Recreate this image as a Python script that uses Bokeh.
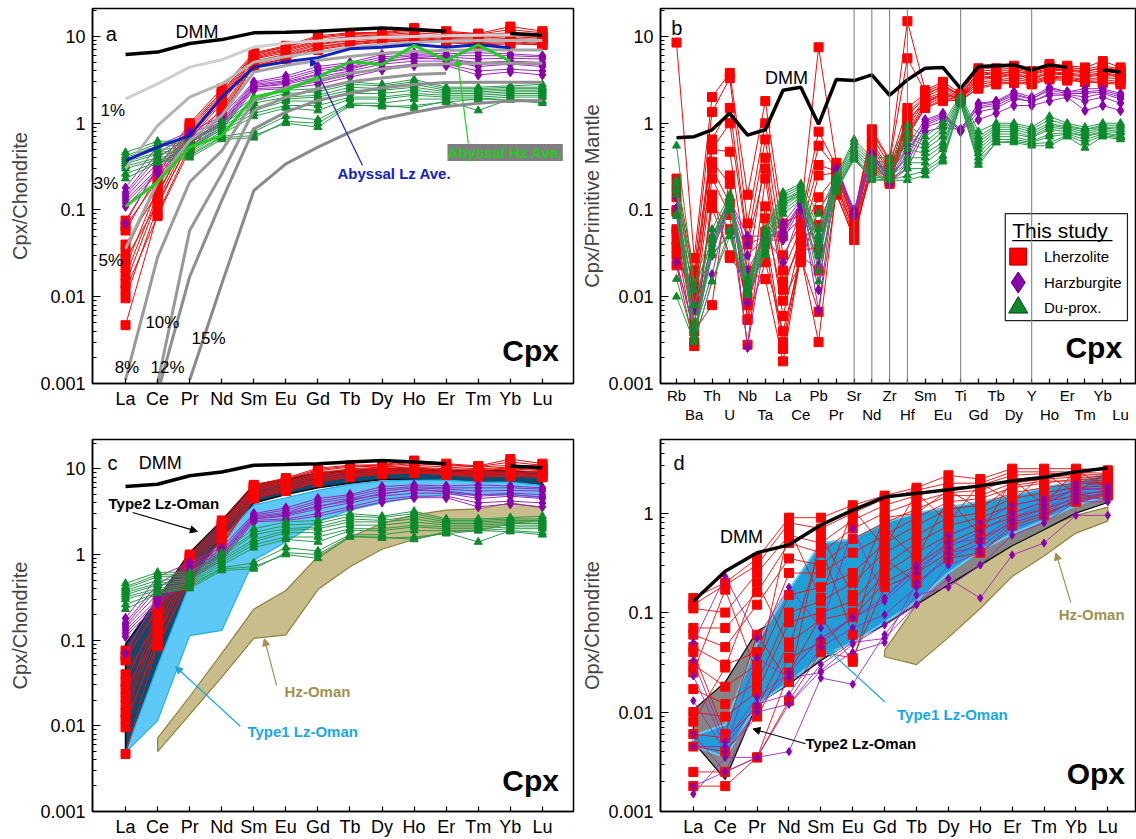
import math
from bokeh.plotting import figure
from bokeh.models import (Range1d, FixedTicker, CustomJSTickFormatter, LinearAxis,
                          Span, Label, Arrow, NormalHead)
from bokeh.layouts import gridplot
from bokeh.embed import file_html
from bokeh.resources import INLINE

FONT = "Liberation Sans"
NA = float("nan")

# ---------------------------------------------------------------- categories
REE = ["La", "Ce", "Pr", "Nd", "Sm", "Eu", "Gd", "Tb", "Dy", "Ho", "Er", "Tm", "Yb", "Lu"]
SPIDER = ["Rb", "Ba", "Th", "U", "Nb", "Ta", "La", "Ce", "Pb", "Pr", "Sr", "Nd", "Zr", "Hf",
          "Sm", "Eu", "Ti", "Gd", "Tb", "Dy", "Y", "Ho", "Er", "Tm", "Yb", "Lu"]
SPIDER_LINES = ["Sr", "Nd", "Zr", "Hf", "Ti", "Y"]

# ---------------------------------------------------------------- DMM
dmm_cpx_ree = [6.2, 6.6, 8.3, 9.2, 11.0, 11.2, 11.5, 12.0, 12.5, 12.0, 11.5, NA, 10.8, 10.3]
dmm_cpx_pm = [0.68, 0.70, 0.84, 1.3, 0.73, 0.84, 2.4, 2.6, 0.97, 3.2, 3.1, 3.6, 2.1, 3.16,
              4.3, 4.4, 2.5, 4.5, 4.6, 4.7, 4.1, 4.7, 4.4, NA, 4.1, 3.9]
dmm_opx_ree = [0.13, 0.26, 0.40, 0.48, 0.76, 1.07, 1.45, 1.58, 1.72, 1.88, 2.1, 2.3, 2.6, 2.85]

# ---------------------------------------------------------------- melting model (panel a)
melt_labels = ["1%", "3%", "5%", "8%", "10%", "12%", "15%"]
melt_1 = [1.91, 2.84, 4.43, 5.38, 7.53, 8.38, 8.84, 9.4, 9.8, 10.0, 10.2, 10.3, 10.4, 10.4]
melt_3 = [0.30, 0.94, 2.0, 2.84, 5.06, 5.88, 6.6, 7.4, 8.1, 8.5, 8.8, 9.0, 9.0, 9.0]
melt_5 = [0.0357, 0.21, 0.63, 1.23, 3.88, 4.63, 5.28, 5.88, 6.4, 6.77, 6.9, 7.0, 7.0, 7.0]
melt_8 = [0.0011, 0.0286, 0.21, 0.48, 1.83, 2.56, 3.16, 3.77, 4.23, 4.63, 4.84, 4.9, 4.9, 4.9]
melt_10 = [NA, 0.001, 0.058, 0.26, 1.4, 2.0, 2.5, 3.0, 3.33, 3.64, 3.77, NA, NA, NA]
melt_12 = [NA, 0.00078, 0.017, 0.128, 0.86, 1.34, 1.83, 2.22, 2.56, 2.8, 2.94, 2.97, 2.97, 2.97]
melt_15 = [NA, NA, 0.0011, 0.014, 0.167, 0.34, 0.53, 0.79, 1.12, 1.34, 1.56, 1.7, 1.8, 1.83]

abyssal_lz_ave = [0.37, 0.53, 0.72, 2.0, 4.4, 5.1, 5.7, 7.2, 7.5, 8.1, 7.5, 8.0, 7.4, NA]
abyssal_hz_ave = [0.11, 0.21, 0.53, 0.72, 2.0, 2.4, 3.4, 5.1, 4.75, 7.9, 5.3, 8.0, 5.2, NA]

# ---------------------------------------------------------------- Cpx REE (panels a, c)
cpx_lz = [
    [0.0755, 0.30, 1.00, 2.5, 6.5, 7.8, 10.2, 11.0, 11.2, 12.5, 11.5, 10.8, 13.0, 11.5],
    [0.058, 0.25, 0.95, 2.3, 6.2, 7.5, 9.5, 10.5, 10.8, 11.5, 11.0, 10.5, 11.0, 10.8],
    [0.0325, 0.20, 0.85, 2.1, 6.0, 7.2, 9.0, 10.0, 10.5, 11.0, 10.5, 10.0, 10.5, 10.0],
    [0.0217, 0.18, 0.80, 2.0, 5.8, 7.0, 8.8, 9.8, 10.2, 10.5, 10.0, 9.8, 10.2, 9.8],
    [0.0175, 0.15, 0.75, 1.9, 5.6, 6.8, 8.5, 9.5, 10.0, 10.2, 9.8, 9.5, 10.0, 9.5],
    [0.0142, 0.13, 0.70, 1.8, 5.5, 6.5, 8.2, 9.2, 9.8, 10.0, 9.5, 9.2, 9.5, 9.2],
    [0.0096, 0.11, 0.65, 1.7, 5.2, 6.2, 8.0, 9.0, 9.5, 9.8, 9.2, 9.0, 9.2, 9.0],
    [0.0047, 0.09, 0.55, 1.5, 5.0, 6.0, 7.6, 8.6, 9.2, 9.5, 9.0, 8.6, 9.0, 8.5],
    [0.040, 0.16, 0.70, 1.4, 4.8, 5.8, 7.5, 8.5, 9.0, 9.2, 8.8, 8.5, 8.8, 8.2],
    [0.027, 0.12, 0.60, 1.3, 4.6, 5.6, 7.2, 8.2, 8.8, 9.0, 8.6, 8.2, 8.5, 8.0],
    [0.065, 0.22, 0.90, 2.2, 6.3, 7.6, 9.8, 10.8, 11.0, 12.0, 11.2, 10.6, 12.0, 11.0],
    [0.012, 0.085, 0.50, 1.25, 4.5, 5.5, 7.0, 8.0, 8.6, 9.0, 8.5, 8.0, 8.2, 8.0],
]
cpx_hz = [
    [0.18, 0.55, 0.80, 1.2, 3.0, 3.5, 4.5, 5.0, 6.2, 6.5, 6.3, 6.5, 6.3, 6.0],
    [0.16, 0.45, 0.75, 1.1, 2.9, 3.3, 4.2, 4.8, 5.8, 6.2, 6.0, 6.0, 6.0, 5.8],
    [0.15, 0.40, 0.70, 1.05, 2.8, 3.1, 4.0, 4.5, 5.5, 6.0, 5.8, 5.5, 5.6, 5.5],
    [0.14, 0.35, 0.65, 1.0, 2.7, 3.0, 3.7, 4.2, 5.2, 5.6, 5.5, 5.0, 5.2, 5.0],
    [0.13, 0.30, 0.60, 0.95, 2.6, 2.8, 3.4, 4.0, 4.8, 5.2, 5.2, 4.5, 4.8, 4.5],
    [0.12, 0.28, 0.55, 0.90, 2.5, 2.6, 3.0, 3.6, 4.4, 4.8, 4.8, 4.0, 4.2, 4.0],
    [0.11, 0.26, 0.52, 0.85, 2.4, 2.5, 2.8, 3.4, 4.1, 4.6, 4.6, 3.6, 3.9, 3.6],
    [0.07, 0.32, 0.62, 0.98, 2.6, 2.9, 3.6, 4.4, 5.0, 5.8, 5.4, 4.8, 5.0, 4.7],
]
cpx_du = [
    [0.46, 0.62, 0.62, 1.05, 2.0, 2.4, 2.5, 3.0, 2.8, 3.2, 2.6, 2.6, 2.7, 2.8],
    [0.42, 0.58, 0.58, 1.0, 1.8, 2.2, 2.3, 2.8, 2.7, 3.0, 2.5, 2.5, 2.6, 2.6],
    [0.40, 0.55, 0.55, 0.95, 1.7, 2.0, 2.1, 2.6, 2.5, 2.8, 2.4, 2.4, 2.5, 2.5],
    [0.38, 0.50, 0.52, 0.90, 1.5, 1.9, 2.0, 2.4, 2.4, 2.6, 2.3, 2.3, 2.4, 2.4],
    [0.36, 0.46, 0.50, 0.85, 1.4, 1.8, 1.8, 2.2, 2.2, 2.4, 2.2, 2.2, 2.3, 2.3],
    [0.34, 0.44, 0.48, 0.80, 1.3, 1.6, 1.6, 2.0, 2.0, 2.2, 2.1, 2.1, 2.2, 2.2],
    [0.32, 0.40, 0.46, 0.75, 1.2, 1.5, 1.4, 1.9, 1.9, 2.1, 2.0, 2.0, 2.1, 2.1],
    [0.30, 0.38, 0.44, 0.70, 0.8, 1.2, 1.1, 1.7, 1.7, 1.9, 1.9, 1.9, 2.0, 2.0],
    [0.26, 0.36, 0.42, 0.68, 0.72, 1.0, 0.9, 1.6, 1.6, 1.5, 1.8, 1.4, 1.9, 1.8],
    [0.23, 0.35, 0.40, 0.65, 0.68, 1.05, 1.0, 1.65, 1.55, 1.6, 1.75, 1.9, 1.85, 1.7],
]

# ---------------------------------------------------------------- Cpx spider (panel b)
pm_lz = [
    [8.5, 0.028, 2.0, 3.8, 0.15, 1.8, 0.07, 0.09, 7.5, 0.35, 0.09, 0.85, 0.38, 15.0, 2.4, 3.0, 2.2, 4.3, 4.3, 4.6, 4.0, 4.8, 4.6, 4.4, 5.2, 4.4],
    [0.23, 0.02, 1.35, 3.3, 0.07, 1.0, 0.05, 0.08, 0.8, 0.32, 0.085, 0.8, 0.36, 5.6, 2.3, 2.8, 2.1, 4.0, 4.1, 4.4, 3.9, 4.5, 4.4, 4.2, 4.6, 4.2],
    [0.14, 0.015, 0.65, 1.5, 0.045, 0.65, 0.03, 0.07, 0.55, 0.3, 0.08, 0.7, 0.33, 1.5, 2.2, 2.6, 2.1, 3.8, 3.9, 4.2, 3.8, 4.3, 4.2, 4.0, 4.3, 4.0],
    [0.095, 0.012, 0.5, 0.47, 0.02, 0.4, 0.02, 0.06, 0.33, 0.28, 0.075, 0.6, 0.3, 1.2, 2.0, 2.5, 2.0, 3.6, 3.7, 4.0, 3.6, 4.1, 4.0, 3.8, 4.0, 3.8],
    [0.056, 0.009, 0.36, 0.2, 0.0055, 0.23, 0.012, 0.05, 0.14, 0.25, 0.07, 0.55, 0.28, 1.0, 1.9, 2.3, 2.0, 3.4, 3.5, 3.8, 3.4, 3.9, 3.8, 3.6, 3.8, 3.6],
    [0.038, 0.007, 0.23, 0.088, 0.0028, 0.11, 0.006, 0.045, 0.067, 0.22, 0.065, 0.5, 0.26, 0.9, 1.8, 2.2, 1.9, 3.2, 3.3, 3.6, 3.3, 3.7, 3.6, 3.4, 3.6, 3.4],
    [0.023, 0.0027, 0.15, 0.028, 0.016, 0.056, 0.003, 0.035, 0.036, 0.2, 0.06, 0.45, 0.25, 0.8, 1.7, 2.1, 1.9, 3.0, 3.1, 3.4, 3.1, 3.5, 3.4, 3.2, 3.4, 3.2],
    [0.1, 0.005, 0.105, 0.03, 0.0195, 0.016, 0.0018, 0.03, 0.003, 0.18, 0.05, 0.4, 0.24, 0.75, 1.6, 2.0, 1.85, 2.8, 3.0, 3.2, 3.0, 3.4, 3.3, 3.1, 3.2, 3.0],
    [0.06, 0.004, 0.008, 0.25, 0.0054, 0.025, 0.004, 0.028, 0.0067, 0.16, 0.045, 0.35, 0.22, 0.72, 1.5, 1.9, 1.8, 2.6, 2.9, 3.0, 2.9, 3.3, 3.2, 3.0, 3.0, 2.9],
    [0.18, 0.018, 0.5, 1.0, 0.04, 0.3, 0.015, 0.04, 0.25, 0.27, 0.07, 0.3, 0.21, 1.3, 2.1, 2.7, 2.1, 3.9, 3.6, 4.0, 3.7, 4.2, 4.1, 3.9, 4.4, 4.1],
    [0.03, 0.01, 0.3, 0.12, 0.01, 0.08, 0.009, 0.025, 0.1, 0.2, 0.055, 0.28, 0.2, 1.1, 1.7, 2.2, 1.95, 3.3, 3.4, 3.7, 3.2, 3.8, 3.7, 3.5, 3.7, 3.5],
    [0.045, 0.003, 0.12, 0.06, 0.008, 0.04, 0.0025, 0.03, 0.02, 0.15, 0.048, 0.32, 0.22, 0.7, 1.5, 1.8, 1.85, 2.5, 2.8, 2.9, 2.8, 3.2, 3.1, 3.0, 2.9, 2.8],
]
pm_hz = [
    [0.15, 0.0035, 0.05, 0.13, 0.05, 0.05, 0.07, 0.13, 0.05, 0.3, 0.1, 0.45, 0.25, 0.55, 1.1, 1.3, 0.85, 1.7, 1.8, 2.3, 2.0, 2.6, 2.3, 2.5, 2.5, 2.2],
    [0.105, 0.007, 0.04, 0.12, 0.03, 0.048, 0.06, 0.12, 0.035, 0.29, 0.095, 0.42, 0.22, 0.45, 1.0, 1.2, 0.82, 1.55, 1.7, 2.1, 1.9, 2.4, 2.2, 2.2, 2.3, 2.0],
    [0.025, 0.004, 0.018, 0.13, 0.0085, 0.045, 0.045, 0.11, 0.023, 0.28, 0.09, 0.4, 0.2, 0.35, 0.9, 1.05, 0.8, 1.35, 1.5, 1.9, 1.8, 2.1, 2.1, 1.8, 2.0, 1.7],
    [0.14, 0.0035, 0.045, 0.14, 0.0026, 0.05, 0.025, 0.1, 0.012, 0.3, 0.085, 0.38, 0.21, 0.3, 0.8, 0.9, 0.84, 1.1, 1.3, 1.6, 1.6, 1.8, 2.0, 1.4, 1.6, 1.4],
    [0.1, 0.0038, 0.035, 0.125, 0.04, 0.05, 0.055, 0.115, 0.007, 0.28, 0.09, 0.43, 0.23, 0.5, 0.95, 1.15, 0.83, 1.5, 1.6, 2.0, 1.75, 2.2, 2.15, 2.0, 2.2, 1.9],
    [0.025, 0.004, 0.03, 0.13, 0.02, 0.05, 0.05, 0.12, 0.03, 0.3, 0.1, 0.44, 0.24, 0.4, 1.05, 1.25, 0.85, 1.65, 1.75, 2.2, 1.9, 2.5, 2.3, 2.3, 2.4, 2.1],
]
pm_du = [
    [0.55, 0.014, 0.06, 0.15, 0.016, 0.06, 0.16, 0.2, 0.09, 0.25, 0.65, 0.4, 0.4, 0.95, 0.7, 1.0, 2.1, 0.8, 1.0, 1.0, 0.9, 1.2, 1.0, 0.9, 1.0, 1.0],
    [0.22, 0.012, 0.045, 0.13, 0.015, 0.055, 0.15, 0.19, 0.06, 0.24, 0.6, 0.37, 0.35, 0.8, 0.6, 0.9, 2.0, 0.7, 0.95, 0.95, 0.85, 1.1, 0.95, 0.85, 0.95, 0.95],
    [0.2, 0.008, 0.05, 0.14, 0.014, 0.05, 0.14, 0.18, 0.05, 0.23, 0.55, 0.35, 0.3, 0.7, 0.55, 0.8, 1.95, 0.65, 0.9, 0.9, 0.8, 1.0, 0.9, 0.85, 0.9, 0.9],
    [0.18, 0.005, 0.04, 0.12, 0.012, 0.045, 0.13, 0.17, 0.045, 0.22, 0.5, 0.33, 0.28, 0.6, 0.5, 0.7, 1.9, 0.6, 0.85, 0.85, 0.75, 0.95, 0.88, 0.8, 0.88, 0.85],
    [0.09, 0.004, 0.032, 0.05, 0.011, 0.04, 0.12, 0.16, 0.04, 0.2, 0.48, 0.3, 0.27, 0.5, 0.45, 0.6, 1.85, 0.55, 0.8, 0.8, 0.7, 0.9, 0.85, 0.75, 0.85, 0.8],
    [0.085, 0.0035, 0.03, 0.055, 0.0105, 0.035, 0.11, 0.15, 0.03, 0.19, 0.45, 0.28, 0.25, 0.4, 0.4, 0.55, 1.8, 0.5, 0.75, 0.75, 0.68, 0.85, 0.8, 0.72, 0.8, 0.78],
    [0.016, 0.003, 0.015, 0.05, 0.011, 0.032, 0.1, 0.14, 0.015, 0.18, 0.42, 0.25, 0.24, 0.35, 0.35, 0.5, 1.75, 0.45, 0.7, 0.7, 0.62, 0.75, 0.78, 0.7, 0.78, 0.72],
    [0.01, 0.003, 0.015, 0.06, 0.012, 0.03, 0.09, 0.13, 0.02, 0.16, 0.4, 0.24, 0.23, 0.3, 0.3, 0.42, 1.7, 0.4, 0.65, 0.65, 0.6, 0.7, 0.75, 0.65, 0.75, 0.7],
    [0.15, 0.0032, 0.035, 0.1, 0.013, 0.04, 0.12, 0.15, 0.035, 0.17, 0.38, 0.23, 0.22, 0.25, 0.28, 0.38, 1.7, 0.36, 0.6, 0.62, 0.58, 0.6, 0.72, 0.6, 0.72, 0.68],
    [0.17, 0.0035, 0.045, 0.11, 0.014, 0.045, 0.13, 0.16, 0.05, 0.18, 0.4, 0.22, 0.22, 0.22, 0.25, 0.36, 1.65, 0.33, 0.6, 0.6, 0.55, 0.55, 0.7, 0.52, 0.7, 0.65],
]

# ---------------------------------------------------------------- Opx REE (panel d)
opx_lz = [
    [0.14, 0.2, 0.35, 0.9, 0.9, 1.2, 1.5, 1.8, 2.4, 2.2, 2.8, 2.8, 2.8, 2.7],
    [0.12, 0.19, 0.3, 0.8, 0.7, 1.0, 1.4, 1.7, 2.0, 2.0, 2.6, 2.6, 2.6, 2.5],
    [0.11, 0.1, 0.25, 0.6, 0.5, 0.85, 1.2, 1.5, 1.8, 1.9, 2.4, 2.5, 2.5, 2.4],
    [0.07, 0.07, 0.16, 0.5, 0.4, 0.7, 1.0, 1.3, 1.6, 1.7, 2.2, 2.3, 2.4, 2.3],
    [0.06, 0.045, 0.12, 0.35, 0.3, 0.55, 0.8, 1.1, 1.5, 1.5, 2.0, 2.2, 2.3, 2.2],
    [0.045, 0.03, 0.04, 0.25, 0.25, 0.4, 0.6, 0.9, 1.3, 1.4, 1.8, 2.0, 2.2, 2.1],
    [0.03, 0.018, 0.03, 0.15, 0.18, 0.25, 0.5, 0.75, 1.1, 1.2, 1.6, 1.8, 2.0, 2.0],
    [0.017, 0.012, 0.02, 0.1, 0.13, 0.2, 0.4, 0.6, 0.9, 1.0, 1.4, 1.6, 1.8, 1.9],
    [0.01, 0.009, 0.016, 0.08, 0.1, 0.13, 0.3, 0.5, 0.75, 0.9, 1.2, 1.4, 1.7, 1.8],
    [0.006, 0.0055, 0.011, 0.05, 0.085, 0.1, 0.25, 0.4, 0.6, 0.8, 1.0, 1.3, 1.5, 1.7],
    [0.0045, 0.004, 0.009, 0.035, 0.05, 0.09, 0.2, 0.3, 0.5, 0.7, 0.9, 1.1, 1.4, 1.6],
    [0.0025, 0.0025, 0.0035, 0.013, 0.04, 0.035, 0.18, 0.25, 0.4, 0.55, 0.8, 1.0, 1.3, 1.5],
    [0.0018, 0.0018, 0.0035, 0.025, 0.09, 0.032, 0.35, 0.2, 0.35, 0.4, 0.75, 0.95, 1.35, 1.55],
    [0.04, 0.006, 0.06, 0.02, 0.6, 0.15, 0.9, 1.0, 1.7, 1.1, 1.9, 2.1, 2.1, 2.0],
    [0.025, 0.17, 0.024, 0.7, 0.14, 1.1, 0.45, 1.6, 0.8, 2.0, 1.3, 2.5, 1.6, 2.6],
    [0.008, 0.028, 0.2, 0.045, 0.45, 0.06, 0.7, 0.35, 1.4, 0.6, 2.2, 1.2, 2.7, 1.8],
]
opx_hz = [
    [0.05, 0.23, 0.055, 0.18, 0.07, 0.7, 0.14, 0.3, 0.6, 0.8, 1.2, 1.4, 2.0, 1.9],
    [0.033, 0.005, 0.014, 0.025, 0.055, 0.088, 0.13, 0.25, 0.5, 0.55, 0.9, 1.2, 1.8, 1.7],
    [0.023, 0.0045, 0.012, 0.015, 0.045, 0.07, 0.095, 0.18, 0.4, 0.45, 0.8, 1.0, 1.5, 1.5],
    [0.013, 0.004, 0.01, 0.012, 0.026, 0.048, 0.075, 0.12, 0.22, 0.14, 0.38, 0.5, 0.95, 0.95],
    [0.006, 0.0025, 0.0035, 0.004, 0.022, 0.019, 0.06, 0.15, 0.18, 0.3, 0.6, 0.8, 1.3, 1.3],
    [0.0045, 0.0045, 0.035, 0.022, 0.025, 0.04, 0.05, 0.2, 0.35, 0.5, 0.85, 1.1, 1.6, 1.6],
    [0.0018, 0.0025, 0.011, 0.025, 0.055, 0.09, 0.14, 0.28, 0.45, 0.65, 1.0, 1.3, 1.7, 1.8],
    [0.0015, 0.0035, 0.0035, 0.012, 0.03, 0.05, 0.055, 0.12, 0.3, 0.4, 0.7, 0.9, 1.4, 1.4],
]

# ---------------------------------------------------------------- Oman fields
# panel c (Cpx), La..Lu
c_type2_upper = [0.09, 0.30, 1.05, 2.5, 6.5, 7.5, 9.0, 9.5, 10.0, 10.0, 9.5, 9.5, 9.5, 9.0]
c_type2_lower = [0.0049, 0.035, 0.35, 1.1, 4.0, 5.0, 6.0, 6.8, 7.5, 7.5, 7.2, 7.0, 6.8, 6.5]
c_type1_upper = [0.0049, 0.05, 0.45, 1.5, 3.8, 4.6, 5.6, 6.6, 7.2, 7.4, 7.4, 7.0, 7.0, 6.4]
c_type1_lower = [0.0049, 0.0115, 0.113, 0.13, 0.85, 1.4, 2.4, 3.3, 4.0, 4.6, 5.0, 5.0, 5.0, 4.6]
# Ce..Lu
c_hz_upper = [0.0072, 0.022, 0.07, 0.23, 0.38, 0.95, 1.6, 2.3, 2.9, 3.3, 3.4, 4.0, 3.5]
c_hz_lower = [0.005, 0.0135, 0.037, 0.105, 0.115, 0.39, 0.72, 1.15, 1.5, 1.85, 1.9, 2.3, 2.5]
# panel d (Opx), La..Lu
d_type2_upper = [0.0105, 0.02, 0.065, 0.1, 0.2, 0.3, 0.45, 0.6, 0.8, 1.0, 1.2, 1.5, 1.8, 2.2]
d_type2_lower = [0.005, 0.0021, 0.012, 0.019, 0.033, 0.052, 0.075, 0.12, 0.19, 0.3, 0.47, 0.68, 1.0, 1.28]
d_type1_upper = [0.0058, 0.0075, 0.05, 0.17, 0.5, 0.55, 0.8, 1.0, 1.15, 1.3, 1.5, 1.8, 2.1, 2.5]
d_type1_lower = [0.0046, 0.0035, 0.012, 0.02, 0.036, 0.05, 0.08, 0.13, 0.25, 0.42, 0.62, 0.85, 1.2, 1.5]
# Gd..Lu
d_hz_upper = [0.042, 0.12, 0.22, 0.32, 0.5, 0.71, 0.95, 1.15]
d_hz_lower = [0.036, 0.030, 0.056, 0.11, 0.23, 0.37, 0.63, 0.83]

# ---------------------------------------------------------------- styles
RED, RED_L = "#ff0000", "#e31010"
PUR, PUR_L = "#8a00aa", "#9a2ab8"
GRN, GRN_L = "#0c8a2c", "#2a9a4a"
MELT_COLORS = ["#cfcfcf", "#b4b4b4", "#a4a4a4", "#9a9a9a", "#979797", "#8e8e8e", "#8a8a8a"]


def decade_minors(lo_exp, hi_exp, top=None):
    out = []
    for e in range(lo_exp, hi_exp + 1):
        for m in range(2, 10):
            v = m * 10.0 ** e
            if top is None or v <= top:
                out.append(v)
    return out


def make_fig(width, height, xr, yr, bl, br, bt, bb, ylabel, names, majors, minors,
             xfont="18px"):
    p = figure(width=width, height=height, x_range=Range1d(*xr), y_range=Range1d(*yr),
               y_axis_type="log", output_backend="svg", toolbar_location=None,
               min_border_left=bl, min_border_right=br, min_border_top=bt, min_border_bottom=bb,
               background_fill_color="white", border_fill_color="white")
    p.xgrid.visible = False
    p.ygrid.visible = False
    p.outline_line_color = "black"
    p.outline_line_width = 1.5
    for ax in (p.xaxis[0], p.yaxis[0]):
        ax.axis_line_color = "black"
        ax.axis_line_width = 1.5
        ax.major_tick_line_color = "black"
        ax.major_tick_line_width = 1.2
        ax.minor_tick_line_color = "black"
        ax.major_tick_out = 0
        ax.minor_tick_out = 0
        ax.major_label_text_font = FONT
        ax.major_label_text_color = "black"
        ax.axis_label_text_font = FONT
        ax.axis_label_text_font_style = "normal"
    ya = p.yaxis[0]
    ya.ticker = FixedTicker(ticks=majors, minor_ticks=minors)
    ya.formatter = CustomJSTickFormatter(code="return tick.toString();")
    ya.major_tick_in = 8
    ya.minor_tick_in = 4
    ya.major_label_text_font_size = "18px"
    ya.major_label_standoff = 7
    ya.axis_label = ylabel
    ya.axis_label_text_font_size = "20px"
    ya.axis_label_standoff = 6
    xa = p.xaxis[0]
    xa.ticker = FixedTicker(ticks=list(range(len(names))))
    xa.major_label_overrides = {i: n for i, n in enumerate(names)}
    xa.major_tick_in = 5
    xa.minor_tick_line_color = None
    xa.major_label_text_font_size = xfont
    xa.major_label_standoff = 5
    return p


def draw_group(p, rows, lcolor, mcolor, marker, size, lw=1.0):
    xs = list(range(len(rows[0])))
    p.multi_line([xs] * len(rows), rows, line_color=lcolor, line_width=lw)
    px = [x for r in rows for x, v in zip(xs, r) if not math.isnan(v)]
    py = [v for r in rows for v in r if not math.isnan(v)]
    p.scatter(px, py, marker=marker, size=size, fill_color=mcolor, line_color=mcolor)


def label(p, x, y, text, size, color="black", bold=False, align="left", bg=None):
    p.add_layout(Label(x=x, y=y, text=text, text_font=FONT, text_font_size=size,
                       text_color=color, text_font_style="bold" if bold else "normal",
                       text_align=align, text_baseline="middle",
                       background_fill_color=bg))


def arrow(p, x0, y0, x1, y1, color):
    p.add_layout(Arrow(end=NormalHead(size=7, fill_color=color, line_color=color),
                       x_start=x0, y_start=y0, x_end=x1, y_end=y1,
                       line_color=color, line_width=1.2))


def field(p, x0, upper, lower, fill, edge, lw=1.2):
    xs = list(range(x0, x0 + len(upper)))
    p.patch(xs + xs[::-1], upper + lower[::-1], fill_color=fill, line_color=edge, line_width=lw)


ree_x = list(range(len(REE)))
ymaj = [0.001, 0.01, 0.1, 1, 10]
TOP_H, BOT_H = 425, 414

# ================================================================ panel a
pa = make_fig(578, TOP_H, (-1.03, 13.97), (0.001, 21), 92, 5, 8, 42, "Cpx/Chondrite",
              REE, ymaj, decade_minors(-3, 1, 21))
draw_group(pa, cpx_lz, RED_L, RED, "square", 9)
draw_group(pa, cpx_hz, PUR_L, PUR, "diamond", 10)
draw_group(pa, cpx_du, GRN_L, GRN, "triangle", 8)
for series, col in zip([melt_1, melt_3, melt_5, melt_8, melt_10, melt_12, melt_15], MELT_COLORS):
    pa.line(ree_x, series, line_color=col, line_width=3)
pa.line(ree_x, abyssal_lz_ave, line_color="#1222b8", line_width=3)
pa.line(ree_x, abyssal_hz_ave, line_color="#22cc22", line_width=3)
pa.line(ree_x, dmm_cpx_ree, line_color="black", line_width=3.5)
label(pa, -0.62, 10.8, "a", "20px")
label(pa, 1.56, 11.4, "DMM", "18px")
for txt, x, y in zip(melt_labels,
                     [-0.78, -0.99, -0.84, -0.34, 0.62, 0.78, 2.06],
                     [1.40, 0.20, 0.026, 0.00152, 0.0050, 0.00152, 0.0033]):
    label(pa, x, y, txt, "17px")
label(pa, 6.61, 0.263, "Abyssal Lz Ave.", "15px", color="#1222b8", bold=True)
arrow(pa, 7.39, 0.325, 5.77, 5.57, "#1222b8")
label(pa, 10.04, 0.459, "Abyssal Hz Ave.", "15px", color="#22cc22", bold=True, bg="#7f7f7f")
arrow(pa, 10.69, 0.583, 10.35, 5.57, "#22cc22")
label(pa, 11.75, 0.0024, "Cpx", "30px", bold=True)

# ================================================================ panel b
pb = make_fig(558, TOP_H, (-0.9, 25.9), (0.001, 21), 79, 0, 8, 42, "Cpx/Primitive Mantle",
              SPIDER, ymaj, decade_minors(-3, 1, 21), xfont="15px")
pb.yaxis[0].axis_label_standoff = 2
pb.xaxis[0].major_label_overrides = {i: (n if i % 2 == 0 else "") for i, n in enumerate(SPIDER)}
pb.xaxis[0].major_label_standoff = 3
odd = [i for i in range(len(SPIDER)) if i % 2 == 1]
ax2 = LinearAxis(ticker=FixedTicker(ticks=odd),
                 major_label_overrides={i: SPIDER[i] for i in odd},
                 axis_line_color=None, major_tick_line_color=None, minor_tick_line_color=None,
                 major_label_standoff=-7, major_label_text_font=FONT,
                 major_label_text_font_size="15px", major_label_text_color="black")
pb.add_layout(ax2, "below")
for el in SPIDER_LINES:
    pb.add_layout(Span(location=SPIDER.index(el), dimension="height",
                       line_color="#7a7a7a", line_width=1))
sp_x = list(range(len(SPIDER)))
draw_group(pb, pm_lz, RED_L, RED, "square", 9)
draw_group(pb, pm_hz, PUR_L, PUR, "diamond", 10)
draw_group(pb, pm_du, GRN_L, GRN, "triangle", 8)
pb.line(sp_x, dmm_cpx_pm, line_color="black", line_width=3.5)
label(pb, -0.3, 12.4, "b", "20px")
label(pb, 4.98, 3.28, "DMM", "18px")
label(pb, 21.9, 0.0026, "Cpx", "30px", bold=True)
# legend "This study" (drawn as glyphs so the symbols sit above the white box)
pb.quad(left=[18.51], right=[25.39], top=[0.091], bottom=[0.0053],
        fill_color="white", line_color="#222222", line_width=1.2)
pb.line([18.9, 24.55], [0.0443, 0.0443], line_color="black", line_width=1.2)
pb.scatter([19.24], [0.029], marker="square", size=17, fill_color=RED, line_color="#a00000")
pb.scatter([19.24], [0.0146], marker="diamond", size=21, fill_color=PUR, line_color="#500070")
pb.scatter([19.24], [0.0075], marker="triangle", size=19, fill_color=GRN, line_color="#064015")
label(pb, 18.9, 0.0578, "This study", "21px")
label(pb, 20.69, 0.029, "Lherzolite", "15px")
label(pb, 20.69, 0.0146, "Harzburgite", "15px")
label(pb, 20.69, 0.0075, "Du-prox.", "15px")

# ================================================================ panel c
pc = make_fig(578, BOT_H, (-1.03, 13.97), (0.001, 22), 92, 5, 14, 26, "Cpx/Chondrite",
              REE, ymaj, decade_minors(-3, 1, 22))
field(pc, 1, c_hz_upper, c_hz_lower, "#c9bd8b", "#8f8040")
field(pc, 0, c_type2_upper, c_type2_lower, "#0c4a70", "black", 1.5)
field(pc, 0, c_type1_upper, c_type1_lower, "#5ec8f6", "#22aee8")
draw_group(pc, cpx_lz, RED_L, RED, "square", 9)
draw_group(pc, cpx_hz, PUR_L, PUR, "diamond", 10)
draw_group(pc, cpx_du, GRN_L, GRN, "triangle", 8)
pc.line(ree_x, dmm_cpx_ree, line_color="black", line_width=3.5)
label(pc, -0.56, 11.7, "c", "20px")
label(pc, 0.41, 11.7, "DMM", "18px")
label(pc, -0.53, 3.93, "Type2 Lz-Oman", "15px", bold=True)
arrow(pc, 0.22, 3.09, 2.24, 1.86, "black")
label(pc, 3.80, 0.0086, "Type1 Lz-Oman", "15px", color="#1aa7e6", bold=True)
arrow(pc, 3.58, 0.0099, 1.56, 0.049, "#1aa7e6")
label(pc, 4.96, 0.0254, "Hz-Oman", "15px", color="#a0914e", bold=True)
arrow(pc, 4.71, 0.0297, 4.33, 0.104, "#a0914e")
label(pc, 11.75, 0.0023, "Cpx", "30px", bold=True)

# ================================================================ panel d
pd_ = make_fig(558, BOT_H, (-1.03, 13.9), (0.001, 5.5), 79, 0, 14, 26, "Opx/Chondrite",
               REE, [0.001, 0.01, 0.1, 1], decade_minors(-3, 0, 5.5))
pd_.yaxis[0].axis_label_standoff = 2
field(pd_, 6, d_hz_upper, d_hz_lower, "#c9bd8b", "#8f8040")
field(pd_, 0, d_type2_upper, d_type2_lower, "#858585", "black", 1.2)
field(pd_, 0, d_type1_upper, d_type1_lower, "#1e9fd8", "#62cdf4", 2)
draw_group(pd_, opx_lz, RED_L, RED, "square", 9, lw=0.9)
draw_group(pd_, opx_hz, PUR_L, PUR, "diamond", 8, lw=0.9)
pd_.line(ree_x, dmm_opx_ree, line_color="black", line_width=3.5)
label(pd_, -0.62, 3.16, "d", "20px")
label(pd_, 0.84, 0.575, "DMM", "18px")
label(pd_, 6.39, 0.00955, "Type1 Lz-Oman", "15px", color="#1aa7e6", bold=True)
arrow(pd_, 6.01, 0.0126, 4.21, 0.0427, "#1aa7e6")
label(pd_, 3.52, 0.0048, "Type2 Lz-Oman", "15px", bold=True)
arrow(pd_, 3.52, 0.0048, 1.87, 0.00676, "black")
label(pd_, 11.46, 0.0955, "Hz-Oman", "15px", color="#a0914e", bold=True)
arrow(pd_, 11.84, 0.126, 11.37, 0.398, "#a0914e")
label(pd_, 11.71, 0.0024, "Opx", "30px", bold=True)

grid = gridplot([[pa, pb], [pc, pd_]], toolbar_location=None)
open("out.html", "w").write(file_html(grid, INLINE))
